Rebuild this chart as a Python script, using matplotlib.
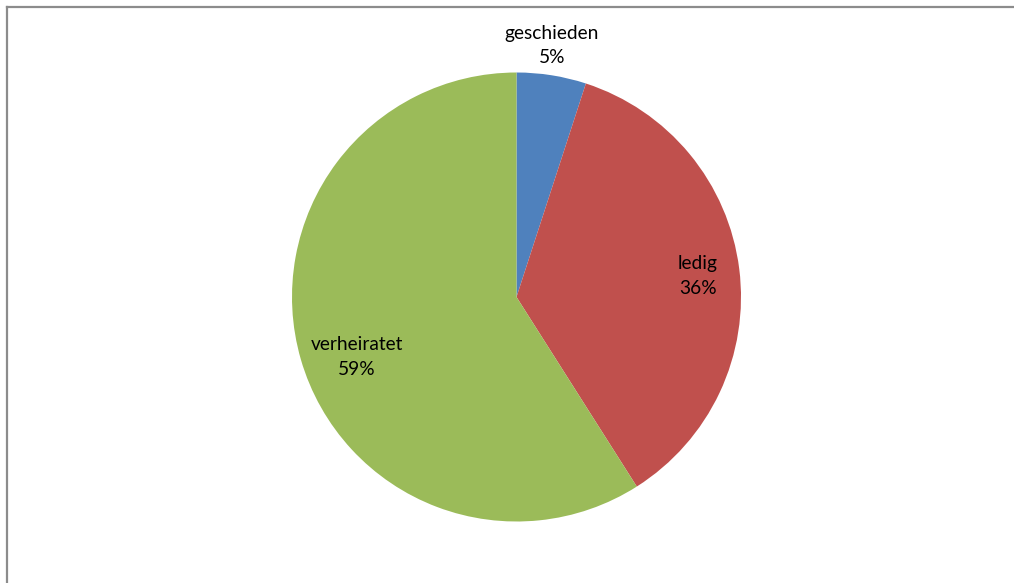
import numpy as np
import matplotlib
matplotlib.use("Agg")
import matplotlib.pyplot as plt
from matplotlib.lines import Line2D

categories = ["geschieden", "ledig", "verheiratet"]
values = [5, 36, 59]
colors = ["#4F81BD", "#C0504D", "#9BBB59"]
label_dist = [1.131, 0.814, 0.759]
label_turn = [-1.0, 0.6, -4.4]  # clockwise adjustment in degrees

plt.rcParams['font.family'] = ['Lato', 'DejaVu Sans']

W, H = 1014, 583
fig = plt.figure(figsize=(W / 100, H / 100), dpi=100)
fig.patch.set_facecolor("white")

cx, cy, r = 516.5, 297, 224.5
ax = fig.add_axes([(cx - r) / W, (H - cy - r) / H, 2 * r / W, 2 * r / H])
wedges, _ = ax.pie(values, colors=colors, startangle=90, counterclock=False,
                   wedgeprops=dict(linewidth=0))
ax.set_xlim(-1, 1)
ax.set_ylim(-1, 1)
ax.set_aspect("equal")
ax.axis("off")

total = sum(values)
for w, cat, v, d, t in zip(wedges, categories, values, label_dist, label_turn):
    ang = np.deg2rad((w.theta1 + w.theta2) / 2 - t)
    ax.text(d * np.cos(ang), d * np.sin(ang), f"{cat}\n{round(v / total * 100)}%",
            ha="center", va="center", fontsize=13.8, color="black",
            linespacing=1.55, clip_on=False)

# chart frame (top and left visible)
fig.add_artist(Line2D([6.5 / W, 1], [1 - 6.5 / H, 1 - 6.5 / H], color="#8C8C8C", lw=1.6,
                      transform=fig.transFigure))
fig.add_artist(Line2D([6.5 / W, 6.5 / W], [0, 1 - 6.5 / H], color="#8C8C8C", lw=1.6,
                      transform=fig.transFigure))

fig.savefig("out.png", dpi=100, facecolor="white")
